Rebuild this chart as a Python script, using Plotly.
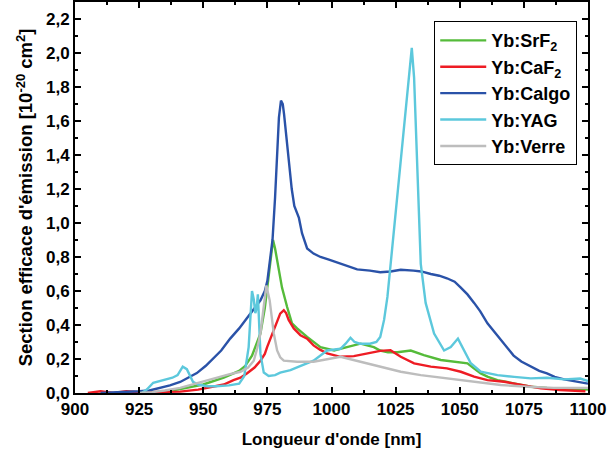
import plotly.graph_objects as go

# ---------------- data ----------------
calgo_nm = [910, 915, 920, 925, 929, 933, 937, 941, 944, 947.5,
            951, 954, 957, 960.5, 964, 967, 970, 972.3, 974, 975,
            976, 977, 978, 978.8, 979.5, 980.3, 981, 981.5, 982.3, 983.3,
            984.5, 985.5, 986.3, 987.3, 988.5, 990.5, 993, 995.7, 999, 1003.5,
            1007, 1010, 1015, 1019, 1023, 1027, 1032, 1035, 1038.7, 1042,
            1045, 1048, 1050.4, 1053, 1055.6, 1058, 1060.8, 1063.5, 1066, 1068.5,
            1071, 1074, 1077.7, 1081, 1084, 1087, 1090.7, 1094, 1097, 1100]
calgo_val = [0.0, 0.003, 0.005, 0.01, 0.015, 0.03, 0.045, 0.065, 0.09, 0.117,
             0.16, 0.205, 0.25, 0.32, 0.38, 0.44, 0.50, 0.545, 0.60, 0.66,
             0.78, 0.90, 1.15, 1.44, 1.62, 1.72, 1.70, 1.64, 1.52, 1.35,
             1.20, 1.10, 1.07, 1.03, 0.94, 0.85, 0.82, 0.80, 0.785, 0.76,
             0.74, 0.727, 0.72, 0.71, 0.715, 0.725, 0.72, 0.715, 0.70, 0.69,
             0.675, 0.655, 0.62, 0.58, 0.53, 0.48, 0.41, 0.36, 0.31, 0.265,
             0.22, 0.185, 0.155, 0.13, 0.115, 0.095, 0.08, 0.07, 0.06, 0.055]

yag_nm = [926, 928, 930.5, 934, 938, 940, 942, 943.6, 945, 946,
          948, 951.4, 955, 960, 964, 966, 967.7, 968.5, 969, 969.7,
          970.3, 970.8, 971.3, 972.3, 973.6, 975.5, 978, 980, 984, 988,
          993, 998.3, 1003.5, 1005.5, 1007.4, 1009, 1011, 1015, 1017.5, 1019,
          1020.5, 1021.8, 1024.3, 1027, 1029.6, 1030.6, 1031.3, 1032.2, 1033.5, 1034.8,
          1036.7, 1040, 1043.9, 1046.5, 1049.3, 1051.7, 1054.3, 1058.2, 1064.7, 1071.2,
          1077.7, 1084, 1090.7, 1097, 1100]
yag_val = [0.0, 0.02, 0.06, 0.075, 0.09, 0.105, 0.155, 0.14, 0.10, 0.066,
           0.05, 0.04, 0.04, 0.045, 0.055, 0.10, 0.27, 0.45, 0.60, 0.55,
           0.47, 0.50, 0.58, 0.23, 0.12, 0.10, 0.105, 0.12, 0.135, 0.16,
           0.19, 0.25, 0.26, 0.29, 0.325, 0.30, 0.29, 0.29, 0.30, 0.33,
           0.43, 0.565, 0.956, 1.35, 1.74, 1.93, 2.03, 1.855, 1.25, 0.76,
           0.53, 0.35, 0.25, 0.27, 0.32, 0.25, 0.175, 0.125, 0.105, 0.095,
           0.086, 0.09, 0.08, 0.085, 0.07]

srf2_nm = [930, 940, 950, 958, 964, 966.4, 969, 972.3, 974, 974.9,
           976.4, 977.2, 978, 978.8, 980.7, 982.7, 984.6, 986.6, 990.5, 995.7,
           1001, 1006, 1011.3, 1016.5, 1019, 1022, 1025.7, 1030.9, 1036, 1042.6,
           1049, 1053, 1055.5, 1058.2, 1061, 1064.7, 1071, 1077.7, 1084, 1090, 1097, 1100]
srf2_val = [0.0, 0.02, 0.05, 0.09, 0.13, 0.16, 0.22, 0.35, 0.50, 0.62,
            0.82, 0.90, 0.85, 0.78, 0.62, 0.506, 0.41, 0.38, 0.33, 0.27,
            0.25, 0.27, 0.29, 0.27, 0.25, 0.24, 0.24, 0.25, 0.223, 0.194,
            0.184, 0.174, 0.145, 0.115, 0.095, 0.076, 0.057, 0.037, 0.03, 0.025, 0.02, 0.02]

caf2_nm = [905, 910, 915, 920, 925, 930, 935, 941, 948, 954,
           958, 961.8, 964.5, 967, 970, 972.3, 974, 974.9, 976.5, 978.1,
           980, 981.4, 982.3, 983.3, 985.3, 987.9, 990.5, 993, 995.5, 998.3,
           1003.5, 1008.7, 1014, 1019, 1023, 1027, 1032.2, 1038.7, 1045, 1050.4,
           1055.6, 1060.8, 1067.3, 1073.8, 1081.6, 1089, 1097, 1099]
caf2_val = [0.0, 0.01, 0.0, 0.01, 0.005, 0.005, 0.005, 0.008, 0.02, 0.037,
            0.05, 0.076, 0.09, 0.115, 0.15, 0.19, 0.23, 0.27, 0.33, 0.39,
            0.467, 0.487, 0.47, 0.43, 0.38, 0.34, 0.32, 0.28, 0.255, 0.233,
            0.213, 0.217, 0.233, 0.248, 0.252, 0.213, 0.174, 0.155, 0.145, 0.125,
            0.096, 0.076, 0.066, 0.047, 0.027, 0.018, 0.01, 0.01]

verre_nm = [925, 930, 935, 941, 948, 954, 960, 964.5, 967.5, 969.7,
            971, 972.3, 973.6, 974.6, 975.9, 977.5, 978.8, 980, 981.4, 984,
            986.6, 993, 998.3, 1003.5, 1011.3, 1019, 1027, 1034.8, 1045, 1055.6,
            1066, 1076.4, 1086.7, 1097, 1100]
verre_val = [0.0, 0.005, 0.015, 0.03, 0.06, 0.086, 0.11, 0.125, 0.15, 0.19,
             0.26, 0.35, 0.506, 0.633, 0.545, 0.35, 0.25, 0.21, 0.19, 0.185,
             0.184, 0.184, 0.20, 0.213, 0.184, 0.155, 0.125, 0.105, 0.086, 0.066,
             0.047, 0.037, 0.03, 0.03, 0.03]

series_names = ["Yb:SrF<sub>2</sub>", "Yb:CaF<sub>2</sub>", "Yb:Calgo", "Yb:YAG", "Yb:Verre"]
series_colors = ["#55bb3a", "#ee1c24", "#2a52a8", "#5cc8dc", "#bdbdbd"]

x_tickvals = [900, 925, 950, 975, 1000, 1025, 1050, 1075, 1100]
x_ticktext = ["900", "925", "950", "975", "1000", "1025", "1050", "1075", "1100"]
y_tickvals = [0.0, 0.2, 0.4, 0.6, 0.8, 1.0, 1.2, 1.4, 1.6, 1.8, 2.0, 2.2]
y_ticktext = ["0,0", "0,2", "0,4", "0,6", "0,8", "1,0", "1,2", "1,4", "1,6", "1,8", "2,0", "2,2"]

# ---------------- figure ----------------
FONT = "Arial, Liberation Sans, sans-serif"
fig = go.Figure()
data = [(srf2_nm, srf2_val), (caf2_nm, caf2_val), (calgo_nm, calgo_val),
        (yag_nm, yag_val), (verre_nm, verre_val)]
for (xs, ys), name, col in zip(data, series_names, series_colors):
    fig.add_trace(go.Scatter(x=xs, y=ys, mode="lines", name=name,
                             line=dict(color=col, width=2.4)))

axis_common = dict(
    showline=True, linewidth=2, linecolor="black", mirror="ticks",
    ticks="inside", ticklen=6, tickwidth=2, tickcolor="black",
    showgrid=False, zeroline=False, automargin=False,
    tickfont=dict(family=FONT, size=17, color="black", weight="bold"),
)

fig.update_layout(
    width=607, height=459,
    margin=dict(l=75, r=19, t=2, b=66),
    paper_bgcolor="white", plot_bgcolor="white",
    font=dict(family=FONT, color="black"),
    showlegend=True,
    legend=dict(
        x=0.979, xanchor="right", y=0.951, yanchor="top",
        bordercolor="black", borderwidth=1, bgcolor="white",
        font=dict(family=FONT, size=18, color="black", weight="bold"),
        tracegroupgap=0, itemwidth=46,
    ),
    xaxis=dict(
        range=[900, 1100], tickvals=x_tickvals, ticktext=x_ticktext,
        minor=dict(ticks="inside", ticklen=3, tickwidth=2, tickcolor="black", dtick=12.5, tick0=900),
        title=dict(text="Longueur d'onde [nm]", standoff=15,
                   font=dict(family=FONT, size=17, color="black", weight="bold")),
        **axis_common,
    ),
    yaxis=dict(
        range=[0, 2.3], tickvals=y_tickvals, ticktext=y_ticktext,
        minor=dict(ticks="inside", ticklen=3, tickwidth=2, tickcolor="black", dtick=0.1, tick0=0),
        title=dict(text="Section efficace d'émission [10<sup>-20</sup> cm<sup>2</sup>]", standoff=8,
                   font=dict(family=FONT, size=18.5, color="black", weight="bold")),
        **axis_common,
    ),
)

fig.write_html("out.html", config={"displayModeBar": False},
               post_script="document.body.style.margin='0';")
